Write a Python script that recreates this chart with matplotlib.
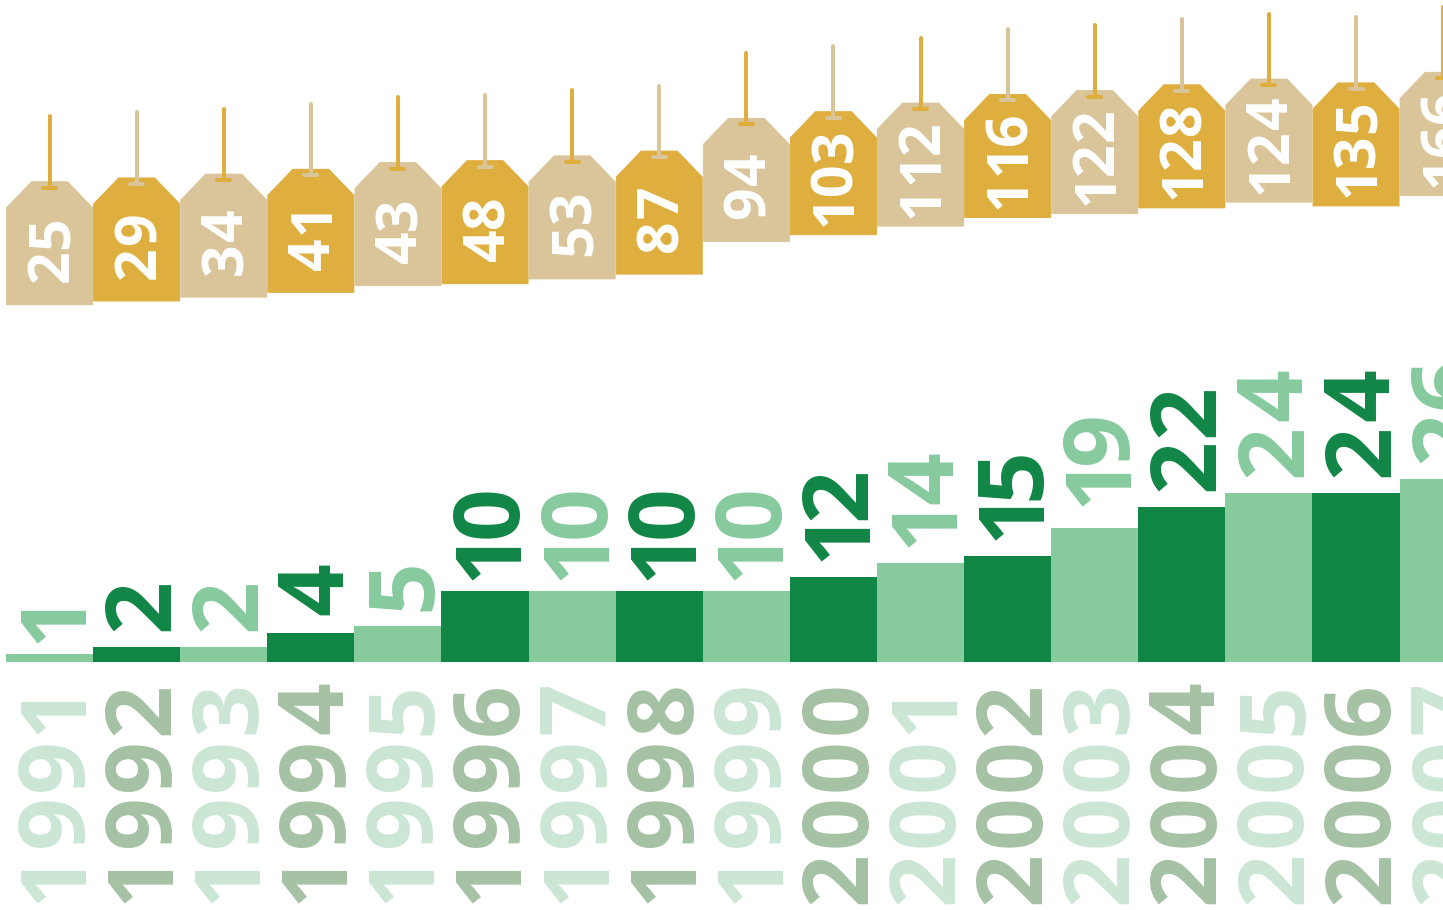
import matplotlib
matplotlib.use("Agg")
import matplotlib.pyplot as plt
from matplotlib.font_manager import FontProperties
from matplotlib.patches import Polygon
from matplotlib.textpath import TextPath

years = [1991, 1992, 1993, 1994, 1995, 1996, 1997, 1998, 1999, 2000, 2001, 2002, 2003, 2004, 2005, 2006, 2007]
bar_values = [1, 2, 2, 4, 5, 10, 10, 10, 10, 12, 14, 15, 19, 22, 24, 24, 26]
tag_values = [25, 29, 34, 41, 43, 48, 53, 87, 94, 103, 112, 116, 122, 128, 124, 135, 166]
tag_levels = [21, 25, 29, 34, 41, 43, 48, 53, 87, 94, 103, 112, 116, 122, 128, 124, 135]

W, H, DPI = 1443, 910, 100
SLOT = 87.1
LEFT = 6.0
TAG_SCALE = 0.96
BAR_SCALE = 7.0
BAR_BASE = 661.3
TAG_BASE = 304.8

DARK, LIGHT = "#108645", "#86ca9e"
YEAR_DARK, YEAR_LIGHT = "#a5c2a4", "#cce6d5"
GOLD, TAN = "#deae3e", "#d9c599"
FONT = "Open Sans"
BIG = 66.6
TAG_FS = 41
ADV = 56.5
TAG_ADV = 33.5
BASE_DX = 32.0
TAG_DX = 18.5
BIG_DY = 4.0
TAG_DY = 2.5
label_nudge = {10: -4.5, 19: 6.5}
PROP = FontProperties(family=FONT, weight="bold")


def ink(ch, size):
    box = TextPath((0, 0), ch, size=size, prop=PROP).get_extents()
    return box.x0 * DPI / 72, box.x1 * DPI / 72


fig = plt.figure(figsize=(W / DPI, H / DPI), dpi=DPI, facecolor="white")
xlim = (-0.5 - LEFT / SLOT, -0.5 + (W - LEFT) / SLOT)
ax_bar = fig.add_axes([0, 0, 1, 1])
ax_bar.set_xlim(*xlim)
ax_bar.set_ylim((BAR_BASE - H) / BAR_SCALE, BAR_BASE / BAR_SCALE)
ax_tag = fig.add_axes([0, 0, 1, 1], sharex=ax_bar)
ax_tag.set_ylim(tag_levels[0] + (TAG_BASE - H) / TAG_SCALE, tag_levels[0] + TAG_BASE / TAG_SCALE)
for ax in (ax_bar, ax_tag):
    ax.axis("off")
    ax.patch.set_alpha(0)


def digit(ax, ch, x, y, dx, dy, color, size):
    ax.annotate(ch, xy=(x, y), xytext=(dx, dy), textcoords="offset pixels",
                rotation=90, rotation_mode="anchor", ha="left", va="baseline",
                fontsize=size, fontweight="bold", family=FONT, color=color)


for i, (yr, v) in enumerate(zip(years, bar_values)):
    dark = i % 2 == 1
    colour = DARK if dark else LIGHT
    ax_bar.bar(i, v + 0.1, bottom=-0.1, width=1.0, color=colour, linewidth=0)

    # value label: digits stacked upward by ink, with the reference's gaps
    label = str(v)
    lead = 0
    if label[0] == "1":
        lead = 2 if len(label) > 1 else -3
    pos = 15.5 + label_nudge.get(v, 0) + lead
    for ch in label:
        lo, hi = ink(ch, BIG)
        digit(ax_bar, ch, i, v, BASE_DX, pos - lo + BIG_DY, colour, BIG)
        pos += (hi - lo) + (7 if ch == "1" else 8)

    # year label: every digit centred in a fixed cell, running up the page
    for k, ch in enumerate(str(yr)):
        lo, hi = ink(ch, BIG)
        centre = -220.2 + k * ADV - (4 if ch == "1" else 0)
        digit(ax_bar, ch, i, 0, BASE_DX, centre - (lo + hi) / 2 + BIG_DY,
              YEAR_DARK if dark else YEAR_LIGHT, BIG)


def sx(p):
    return p / SLOT


def sy(p):
    return p / TAG_SCALE


for i, (val, lev) in enumerate(zip(tag_values, tag_levels)):
    body, accent = (GOLD, TAN) if i % 2 == 1 else (TAN, GOLD)
    outline = [(-43, 0), (43, 0), (43, 97), (18, 123), (-18, 123), (-43, 97)]
    ax_tag.add_patch(Polygon([(i + sx(a), lev + sy(b)) for a, b in outline], closed=True,
                             facecolor=body, edgecolor=body, linewidth=0.7, joinstyle="round"))
    ax_tag.plot([i, i], [lev + sy(117), lev + sy(188.5)], color=accent, lw=2.9, solid_capstyle="round")
    ax_tag.plot([i - sx(6.5), i + sx(6.5)], [lev + sy(117)] * 2, color=accent, lw=2.9, solid_capstyle="round")
    s = str(val)
    for k, ch in enumerate(s):
        lo, hi = ink(ch, TAG_FS)
        centre = 53 + (k - (len(s) - 1) / 2) * TAG_ADV
        digit(ax_tag, ch, i, lev, TAG_DX, centre - (lo + hi) / 2 + TAG_DY, "white", TAG_FS)

fig.savefig("out.png", dpi=DPI, facecolor="white")
